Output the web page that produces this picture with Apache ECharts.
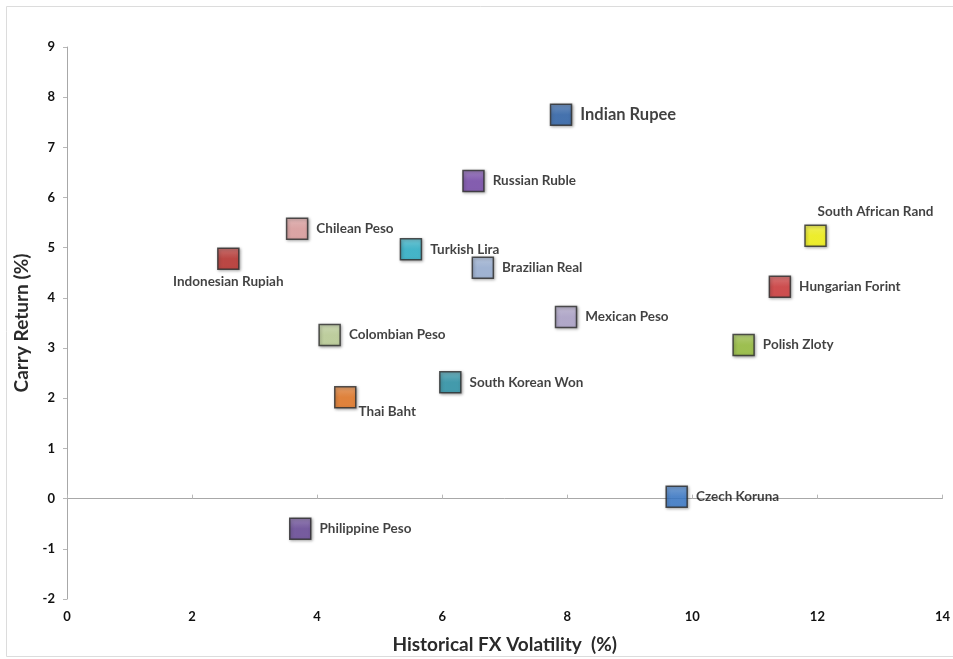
<!DOCTYPE html>
<html>
<head>
<meta charset="utf-8">
<script src="https://cdn.jsdelivr.net/npm/echarts@6/dist/echarts.min.js"></script>
<style>html,body{margin:0;padding:0;background:#fff}#c{width:953px;height:659px}</style>
</head>
<body>
<div id="c"></div>
<script>
// ---- data ----
const currencies = ["Indian Rupee","Russian Ruble","Chilean Peso","Indonesian Rupiah","Turkish Lira","Brazilian Real","South African Rand","Hungarian Forint","Mexican Peso","Colombian Peso","Polish Zloty","South Korean Won","Thai Baht","Czech Koruna","Philippine Peso"];
const volatility = [7.9, 6.5, 3.68, 2.58, 5.5, 6.65, 11.97, 11.4, 7.98, 4.2, 10.82, 6.13, 4.45, 9.75, 3.73];
const carryReturn = [7.65, 6.33, 5.38, 4.78, 4.97, 4.6, 5.24, 4.22, 3.62, 3.26, 3.06, 2.32, 2.02, 0.04, -0.6];
const xTicks = [0, 2, 4, 6, 8, 10, 12, 14];
const yTicks = [-2, -1, 0, 1, 2, 3, 4, 5, 6, 7, 8, 9];

// ---- styles ----
const colors = ["#2E66B0","#7C4CB2","#E8A4A4","#C0302C","#2DB9D2","#9FB7DE","#FFFF10","#D8393A","#B4A9D2","#C4D89C","#9CC63C","#2B98AE","#EE7A22","#3B7ED2","#6B4A9E"];
const labelPos = {
  "Indonesian Rupiah": {position: "bottom", distance: 5},
  "South African Rand": {position: "top", distance: 6, offset: [60, 0]},
  "Thai Baht": {position: "bottom", distance: 4, offset: [42, -8]},
  "Indian Rupee": {position: "right", distance: 8, fontSize: 16.5, fontWeight: "bold"}
};

function lighten(hex, f) {
  const n = parseInt(hex.slice(1), 16);
  let r = (n >> 16) & 255, g = (n >> 8) & 255, b = n & 255;
  r = Math.round(r + (255 - r) * f); g = Math.round(g + (255 - g) * f); b = Math.round(b + (255 - b) * f);
  return "rgb(" + r + "," + g + "," + b + ")";
}

const seriesData = currencies.map((name, i) => {
  const lp = labelPos[name] || {position: "right", distance: 8};
  return {
    name: name,
    value: [volatility[i], carryReturn[i]],
    itemStyle: {
      color: {type: "linear", x: 0, y: 0, x2: 0, y2: 1, colorStops: [
        {offset: 0, color: lighten(colors[i], 0.25)},
        {offset: 0.5, color: colors[i]},
        {offset: 1, color: colors[i]}
      ]}
    },
    label: {
      show: true,
      position: lp.position,
      distance: lp.distance,
      offset: lp.offset || [0, 0],
      fontSize: lp.fontSize || 13.5,
      fontWeight: lp.fontWeight || "bold",
      formatter: "{b}"
    }
  };
});

const chart = echarts.init(document.getElementById("c"), null, {renderer: "canvas"});
chart.setOption({
  backgroundColor: "#fff",
  animation: false,
  graphic: [{
    type: "rect", shape: {x: 6.5, y: 6.5, width: 960, height: 650},
    style: {fill: "none", stroke: "#dcdcdc", lineWidth: 1}, silent: true
  }],
  grid: {left: 67, right: 10, top: 47, bottom: 59, containLabel: false},
  xAxis: [{
    type: "value", min: xTicks[0], max: xTicks[xTicks.length - 1], interval: 2,
    position: "bottom",
    axisLine: {show: true, onZero: true, lineStyle: {color: "#a8a8a8", width: 1}},
    axisTick: {show: true, inside: true, length: 4, lineStyle: {color: "#b8b8b8"}},
    axisLabel: {show: false},
    splitLine: {show: false}
  }, {
    type: "value", min: xTicks[0], max: xTicks[xTicks.length - 1], interval: 2,
    position: "bottom",
    axisLine: {show: false, onZero: false},
    axisTick: {show: false},
    axisLabel: {show: true, margin: 11, color: "#111", fontFamily: "Lato", fontWeight: "bold", fontSize: 13},
    splitLine: {show: false},
    name: "Historical FX Volatility  (%)", nameLocation: "middle", nameGap: 36,
    nameTextStyle: {color: "#2a2a2a", fontFamily: "Lato", fontWeight: "bold", fontSize: 19}
  }],
  yAxis: {
    type: "value", min: yTicks[0], max: yTicks[yTicks.length - 1], interval: 1,
    axisLine: {show: true, onZero: false, lineStyle: {color: "#a8a8a8", width: 1}},
    axisTick: {show: true, length: 4, lineStyle: {color: "#b8b8b8"}},
    axisLabel: {show: true, margin: 12, color: "#111", fontFamily: "Lato", fontWeight: "bold", fontSize: 13},
    splitLine: {show: false},
    name: "Carry Return (%)", nameLocation: "middle", nameGap: 25, nameRotate: 90,
    nameTextStyle: {color: "#2a2a2a", fontFamily: "Lato", fontWeight: "bold", fontSize: 19}
  },
  series: [{
    type: "scatter",
    xAxisIndex: 0,
    symbol: "rect",
    symbolSize: 21,
    itemStyle: {
      borderColor: "#2a2a2a", borderWidth: 1.5,
      shadowBlur: 3, shadowColor: "rgba(0,0,0,0.45)", shadowOffsetX: 1, shadowOffsetY: 1
    },
    label: {color: "#111", fontFamily: "Lato"},
    emphasis: {disabled: true},
    data: seriesData
  }]
});
</script>
</body>
</html>
